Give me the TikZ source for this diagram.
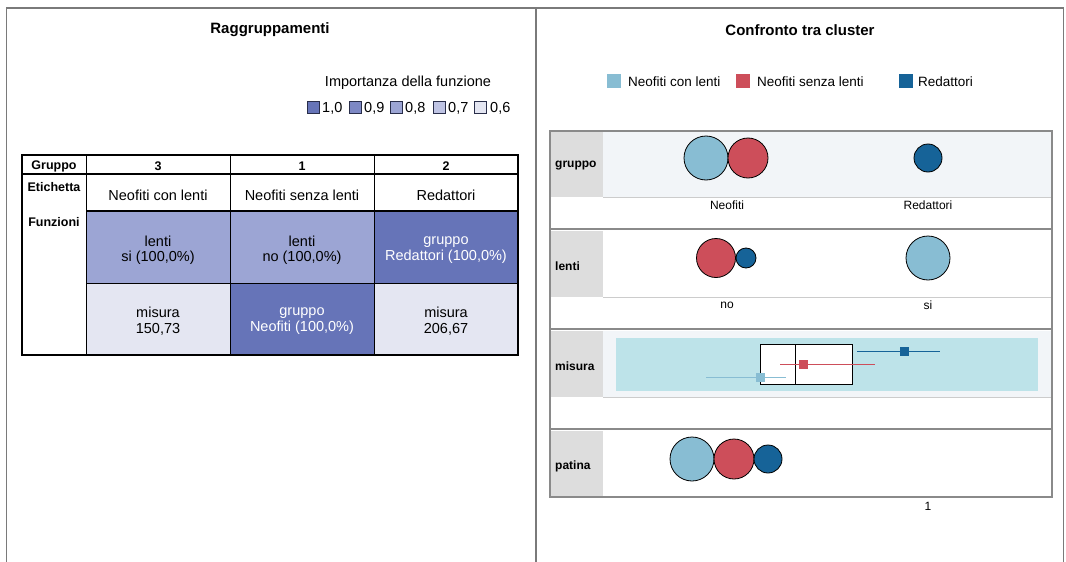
\documentclass[tikz,border=0pt]{standalone}
\usepackage{fontspec}
\setmainfont{Liberation Sans}
\definecolor{frameg}{HTML}{7A7A7A}
\definecolor{imp10}{HTML}{6674B8}
\definecolor{imp09}{HTML}{7D88C4}
\definecolor{imp08}{HTML}{9CA5D4}
\definecolor{imp07}{HTML}{BFC4E4}
\definecolor{imp06}{HTML}{E4E6F2}
\definecolor{cLB}{HTML}{88BDD3}
\definecolor{cRD}{HTML}{CD4E5A}
\definecolor{cDB}{HTML}{166398}
\definecolor{plotbg}{HTML}{F2F5F8}
\definecolor{labbg}{HTML}{DDDDDD}
\definecolor{boxbg}{HTML}{BDE3E9}
\definecolor{sepg}{HTML}{8A8A8A}
\definecolor{thing}{HTML}{CCCCCC}
\begin{document}
\begin{tikzpicture}[x=1pt,y=-1pt,
  frame/.style={draw=frameg,line width=1.8pt},
  title/.style={font=\fontsize{15}{18}\selectfont\bfseries},
  tabtxt/.style={font=\fontsize{14.5}{15.5}\selectfont,align=center},
  tabhead/.style={font=\fontsize{12.5}{14}\selectfont\bfseries},
  cell/.style={draw=black,line width=1pt,inner sep=0pt,minimum width=144pt,minimum height=72pt},
  impsq/.style={draw=black!60!imp10,line width=0.8pt,minimum size=12pt,inner sep=0pt},
  legtxt/.style={font=\fontsize{14.5}{16}\selectfont,anchor=west,inner sep=0pt},
  rlegsq/.style={minimum size=14pt,inner sep=0pt},
  rlegtxt/.style={font=\fontsize{13.5}{15}\selectfont,anchor=west,inner sep=0pt},
  rowlab/.style={font=\fontsize{12}{14}\selectfont\bfseries,anchor=west,inner sep=0pt},
  axlab/.style={font=\fontsize{12}{14}\selectfont,inner sep=0pt},
  bubble/.style={circle,draw=black,line width=0.8pt,inner sep=0pt},
  meansq/.style={minimum size=9pt,inner sep=0pt},
  sep/.style={draw=sepg,line width=2.5pt},
  thinl/.style={draw=thing,line width=1pt}
]
\useasboundingbox (0,0) rectangle (1066,562);
\fill[white] (0,0) rectangle (1066,562);

% outer frame
\draw[frame] (6.5,562) -- (6.5,8) -- (1063.5,8) -- (1063.5,562);
\draw[frame] (536,8) -- (536,562);

% ---------------- left panel ----------------
\node[title] (ltitle) at (270,30) {Raggruppamenti};
\node[font=\fontsize{14.5}{16}\selectfont] (legtitle) at (408,83) {Importanza della funzione};

\node[impsq,fill=imp10] (s10) at (313,107) {};
\node[legtxt] (t10) at (322,108) {1,0};
\node[impsq,fill=imp09] (s09) at (355,107) {};
\node[legtxt] (t09) at (364,108) {0,9};
\node[impsq,fill=imp08] (s08) at (396,107) {};
\node[legtxt] (t08) at (405,108) {0,8};
\node[impsq,fill=imp07] (s07) at (439,107) {};
\node[legtxt] (t07) at (448,108) {0,7};
\node[impsq,fill=imp06] (s06) at (480,107) {};
\node[legtxt] (t06) at (490,108) {0,6};

% table cells
\node[cell,fill=imp08] (c1a) at (158,247) {};
\node[cell,fill=imp08] (c2a) at (302,247) {};
\node[cell,fill=imp10] (c3a) at (446,247) {};
\node[cell,fill=imp06] (c1b) at (158,319) {};
\node[cell,fill=imp10] (c2b) at (302,319) {};
\node[cell,fill=imp06] (c3b) at (446,319) {};
\node[tabtxt] (x1a) at (158,250) {lenti\\si (100,0\%)};
\node[tabtxt] (x2a) at (302,250) {lenti\\no (100,0\%)};
\node[tabtxt,text=white] (x3a) at (446,250) {gruppo\\Redattori (100,0\%)};
\node[tabtxt] (x1b) at (158,321) {misura\\150,73};
\node[tabtxt,text=white] (x2b) at (302,321) {gruppo\\Neofiti (100,0\%)};
\node[tabtxt] (x3b) at (446,321) {misura\\206,67};

% table lines
\draw[line width=1pt] (86,155) -- (86,355);
\draw[line width=1pt] (230,155) -- (230,211);
\draw[line width=1pt] (374,155) -- (374,211);
\draw[line width=1.3pt] (22,174) -- (518,174);
\draw[line width=1.3pt] (86,211) -- (518,211);
\draw[line width=2.2pt] (22,155) rectangle (518,355);

\node[tabhead] (hg) at (54,166) {Gruppo};
\node[tabhead] (h3) at (158,166) {3};
\node[tabhead] (h1) at (302,166) {1};
\node[tabhead] (h2) at (446,166) {2};
\node[tabhead] (he) at (54,187) {Etichetta};
\node[tabhead] (hf) at (54,222) {Funzioni};
\node[tabtxt] (l3) at (158,195) {Neofiti con lenti};
\node[tabtxt] (l1) at (302,195) {Neofiti senza lenti};
\node[tabtxt] (l2) at (446,195) {Redattori};

% ---------------- right panel ----------------
\node[title] (rtitle) at (800,30) {Confronto tra cluster};

\node[rlegsq,fill=cLB] (q1) at (614,81) {};
\node[rlegtxt] (r1) at (628,82) {Neofiti con lenti};
\node[rlegsq,fill=cRD] (q2) at (743,81) {};
\node[rlegtxt] (r2) at (757,82) {Neofiti senza lenti};
\node[rlegsq,fill=cDB] (q3) at (906,81) {};
\node[rlegtxt] (r3) at (918,82) {Redattori};

% row backgrounds
\fill[labbg] (550,131) rectangle (603,197);
\fill[plotbg] (603,131) rectangle (1052,197);
\draw[thinl] (603,197) -- (1052,197);
\fill[labbg] (550,231) rectangle (603,297);
\draw[thinl] (603,297) -- (1052,297);
\fill[labbg] (550,331) rectangle (603,397);
\fill[plotbg] (603,331) rectangle (1052,397);
\draw[thinl] (603,397) -- (1052,397);
\fill[labbg] (550,431) rectangle (603,497);

\draw[sep] (550,229) -- (1052,229);
\draw[sep] (550,329) -- (1052,329);
\draw[sep] (550,429) -- (1052,429);
\draw[draw=sepg,line width=1.5pt] (550,131) rectangle (1052,497);

\node[rowlab] (rg) at (555,166) {gruppo};
\node[rowlab] (rl) at (555,266) {lenti};
\node[rowlab] (rm) at (555,366) {misura};
\node[rowlab] (rp) at (555,466) {patina};

% gruppo bubbles
\node[bubble,fill=cLB,minimum size=44pt] (g1) at (706,158) {};
\node[bubble,fill=cRD,minimum size=40pt] (g2) at (748,158) {};
\node[bubble,fill=cDB,minimum size=28pt] (g3) at (928,158) {};
\node[axlab] (ga) at (727,205) {Neofiti};
\node[axlab] (gb) at (928,205) {Redattori};

% lenti bubbles
\node[bubble,fill=cRD,minimum size=39pt] (n1) at (716,258) {};
\node[bubble,fill=cDB,minimum size=20pt] (n2) at (746,258) {};
\node[bubble,fill=cLB,minimum size=44pt] (n3) at (928,258) {};
\node[axlab] (na) at (727,305) {no};
\node[axlab] (nb) at (928,305) {si};

% misura boxplot
\fill[boxbg] (616,338) rectangle (1038,391);
\node[draw=black,fill=white,line width=1pt,minimum width=92pt,minimum height=40pt,inner sep=0pt] (box) at (806,364) {};
\draw[line width=1pt] (795,344) -- (795,384);
\draw[cDB,line width=1pt] (857,351) -- (940,351);
\node[meansq,fill=cDB] (m3) at (904,351) {};
\draw[cRD,line width=1pt] (780,364) -- (875,364);
\node[meansq,fill=cRD] (m2) at (803,364) {};
\draw[cLB,line width=1pt] (706,377) -- (786,377);
\node[meansq,fill=cLB] (m1) at (760,377) {};

% patina bubbles
\node[bubble,fill=cLB,minimum size=44pt] (p1) at (692,459) {};
\node[bubble,fill=cRD,minimum size=40pt] (p2) at (734,459) {};
\node[bubble,fill=cDB,minimum size=28pt] (p3) at (768,459) {};
\node[axlab] (pa) at (928,506) {1};
\end{tikzpicture}
\end{document}
